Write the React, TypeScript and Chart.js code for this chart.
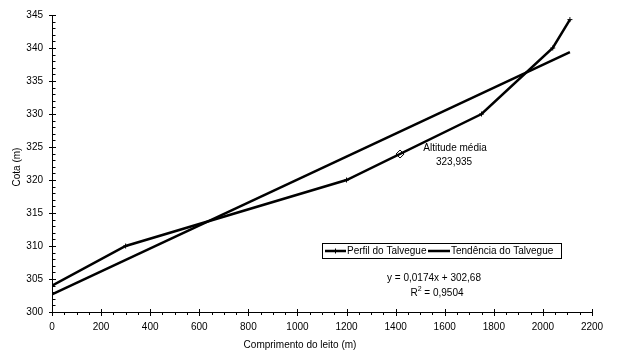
import React, { useEffect, useRef } from "react";
import { Chart, registerables } from "chart.js";

Chart.register(...registerables);

// ---- data ----
const perfilX = [0, 300, 1200, 1750, 2040, 2110];
const perfilY = [304, 310, 320, 330, 340, 344.3];
const trendX = [0, 2110];
const trendY = [302.68, 339.39];
const altX = [1418];
const altY = [323.935];
const seriesNames = ["Perfil do Talvegue", "Tendência do Talvegue"];
const altLabel = ["Altitude média", "323,935"];
const eqLine = "y = 0,0174x + 302,68";
const r2Value = " = 0,9504";
const xTitle = "Comprimento do leito (m)";
const yTitle = "Cota (m)";
const xMin = 0, xMax = 2200, xStep = 200, xMinorStep = 50;
const yMin = 300, yMax = 345, yStep = 5, yMinorStep = 1;

const FONT = "'Liberation Sans', Arial, sans-serif";

const decorPlugin = {
  id: "decor",
  afterDraw(chart: any) {
    const ctx = chart.ctx;
    const xs = chart.scales.x;
    const ys = chart.scales.y;
    const ax = Math.round(ys.left + ys.width) + 0.5; // y-axis line x
    const ay = Math.round(xs.top) + 0.5; // x-axis line y
    ctx.save();
    ctx.strokeStyle = "#000";
    ctx.lineWidth = 1;
    ctx.beginPath();
    // y ticks
    for (let v = yMin; v <= yMax + 1e-9; v += yMinorStep) {
      const py = Math.round(ys.getPixelForValue(v)) + 0.5;
      if (Math.abs((v - yMin) % yStep) < 1e-9) {
        ctx.moveTo(ax - 3.5, py);
        ctx.lineTo(ax + 3.5, py);
      } else {
        ctx.moveTo(ax, py);
        ctx.lineTo(ax + 3, py);
      }
    }
    // x ticks
    for (let v = xMin; v <= xMax + 1e-9; v += xMinorStep) {
      const px = Math.round(xs.getPixelForValue(v)) + 0.5;
      if (Math.abs((v - xMin) % xStep) < 1e-9) {
        ctx.moveTo(px, ay - 3.5);
        ctx.lineTo(px, ay + 3.5);
      } else {
        ctx.moveTo(px, ay);
        ctx.lineTo(px, ay + 2.5);
      }
    }
    ctx.stroke();

    ctx.fillStyle = "#000";
    ctx.font = `10px ${FONT}`;
    // axis titles
    ctx.textAlign = "center";
    ctx.textBaseline = "middle";
    ctx.fillText(xTitle, 300, 345);
    ctx.save();
    ctx.translate(17, 167);
    ctx.rotate(-Math.PI / 2);
    ctx.fillText(yTitle, 0, 0);
    ctx.restore();

    // altitude annotation
    const apx = xs.getPixelForValue(altX[0]);
    const apy = ys.getPixelForValue(altY[0]);
    ctx.fillText(altLabel[0], apx + 55, apy - 6);
    ctx.fillText(altLabel[1], apx + 54, apy + 8);

    // equation
    ctx.fillText(eqLine, 434, 278);
    const rW = ctx.measureText("R").width;
    const vW = ctx.measureText(r2Value).width;
    ctx.font = `7px ${FONT}`;
    const sW = ctx.measureText("2").width;
    const total = rW + sW + vW;
    const sx = 437 - total / 2;
    ctx.textAlign = "left";
    ctx.font = `10px ${FONT}`;
    ctx.fillText("R", sx, 293);
    ctx.font = `7px ${FONT}`;
    ctx.fillText("2", sx + rW, 289);
    ctx.font = `10px ${FONT}`;
    ctx.fillText(r2Value, sx + rW + sW, 293);

    // legend
    ctx.lineWidth = 1;
    ctx.strokeRect(322.5, 243.5, 239, 15);
    const ly = 251;
    ctx.lineWidth = 2.5;
    ctx.beginPath();
    ctx.moveTo(325, ly);
    ctx.lineTo(346, ly);
    ctx.moveTo(428, ly);
    ctx.lineTo(450, ly);
    ctx.stroke();
    ctx.lineWidth = 1;
    ctx.beginPath();
    ctx.moveTo(335.5, ly - 2.5);
    ctx.lineTo(335.5, ly + 2.5);
    ctx.stroke();
    ctx.textAlign = "left";
    ctx.fillText(seriesNames[0], 347, ly);
    ctx.fillText(seriesNames[1], 451, ly);
    ctx.restore();
  },
};

export default function App() {
  const ref = useRef<HTMLCanvasElement>(null);
  useEffect(() => {
    document.body.style.margin = "0";
    const canvas = ref.current!;
    const chart = new Chart(canvas, {
      type: "scatter",
      data: {
        datasets: [
          {
            label: seriesNames[0],
            data: perfilX.map((x, i) => ({ x, y: perfilY[i] })),
            showLine: true,
            borderColor: "#000",
            backgroundColor: "#000",
            borderWidth: 2.5,
            pointStyle: "cross",
            pointRadius: 2.5,
            pointBorderWidth: 1,
          },
          {
            label: seriesNames[1],
            data: trendX.map((x, i) => ({ x, y: trendY[i] })),
            showLine: true,
            borderColor: "#000",
            backgroundColor: "#000",
            borderWidth: 2.5,
            pointRadius: 0,
          },
          {
            label: altLabel[0],
            data: altX.map((x, i) => ({ x, y: altY[i] })),
            showLine: false,
            pointStyle: "rectRot",
            pointRadius: 4,
            borderColor: "#000",
            backgroundColor: "#fff",
            borderWidth: 1,
          },
        ],
      },
      options: {
        responsive: false,
        animation: false,
        layout: { padding: { left: 0, top: 13, right: 29, bottom: 0 } },
        plugins: { legend: { display: false }, tooltip: { enabled: false } },
        scales: {
          x: {
            type: "linear",
            min: xMin,
            max: xMax,
            grid: { display: false, drawTicks: false },
            border: { display: true, color: "#000", width: 1 },
            ticks: {
              stepSize: xStep,
              color: "#000",
              font: { family: FONT, size: 10 },
              padding: 9,
              maxRotation: 0,
              callback: (v: any) => String(v),
            },
            afterFit: (s: any) => {
              s.height = 49;
            },
          },
          y: {
            type: "linear",
            min: yMin,
            max: yMax,
            grid: { display: false, drawTicks: false },
            border: { display: true, color: "#000", width: 1 },
            ticks: {
              stepSize: yStep,
              color: "#000",
              font: { family: FONT, size: 10 },
              padding: 9,
              callback: (v: any) => String(v),
            },
            afterFit: (s: any) => {
              s.width = 52;
            },
          },
        },
      },
      plugins: [decorPlugin],
    } as any);
    return () => chart.destroy();
  }, []);
  return (
    <div style={{ width: 621, height: 361, background: "#fff" }}>
      <canvas ref={ref} width={621} height={361} />
    </div>
  );
}
